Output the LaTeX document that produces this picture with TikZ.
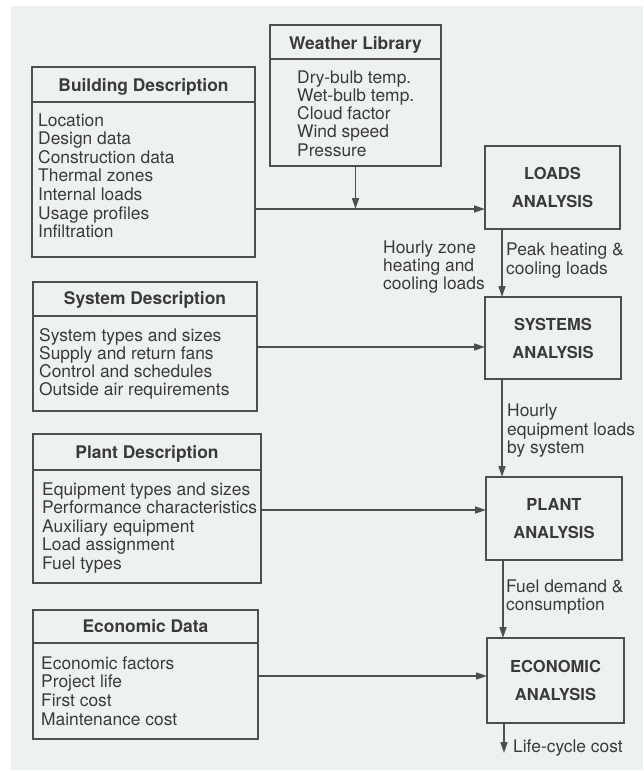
\documentclass[tikz,border=0pt]{standalone}
\usepackage{fontspec}
\setmainfont{TeX Gyre Heros}
\usetikzlibrary{arrows.meta}
\definecolor{paper}{RGB}{237,242,241}
\definecolor{ink}{RGB}{58,58,58}
\definecolor{rule}{RGB}{78,78,78}
\tikzset{
  box/.style={draw=rule, line width=1.8pt, inner sep=0pt, outer sep=0pt, anchor=north west},
  head/.style={font=\fontsize{17.4}{18.5}\selectfont\bfseries, text=ink, anchor=base, inner sep=0pt},
  item/.style={font=\fontsize{17.4}{18.5}\selectfont, text=ink, anchor=base west, inner sep=0pt},
  stage/.style={draw=rule, line width=1.8pt, inner sep=0pt, outer sep=0pt, align=center,
    text=ink, font=\fontsize{16.5}{28}\selectfont\bfseries},
  flow/.style={draw=rule, line width=1.6pt, -{Triangle[length=11pt,width=7pt]}},
  divider/.style={draw=rule, line width=1.6pt},
}
\begin{document}
\begin{tikzpicture}[x=1pt,y=-1pt]
  % page and paper tone
  \useasboundingbox (0,0) rectangle (643,771);
  \fill[white] (0,0) rectangle (643,771);
  \fill[paper] (11,6) rectangle (643,770);

  % ---------- input data boxes ----------
  % Weather library
  \node[box, minimum width=171pt, minimum height=141pt] (wx) at (270,25) {};
  \draw[divider] (wx.west |- 0,59) -- (wx.east |- 0,59);
  \node[head] (wxT) at (355.5,49) {Weather Library};
  \foreach \t [count=\i] in {Dry-bulb temp., Wet-bulb temp., Cloud factor, Wind speed, Pressure}
    \node[item] (wx\i) at (297,{83+18.25*(\i-1)}) {\t};

  % Building description
  \node[box, minimum width=223pt, minimum height=190pt] (bld) at (32,67) {};
  \draw[divider] (bld.west |- 0,102) -- (bld.east |- 0,102);
  \node[head] (bldT) at (143.5,91) {Building Description};
  \foreach \t [count=\i] in {Location, Design data, Construction data, Thermal zones,
                             Internal loads, Usage profiles, Infiltration}
    \node[item] (bld\i) at (38,{126+18.6*(\i-1)}) {\t};

  % System description
  \node[box, minimum width=224pt, minimum height=129pt] (sysd) at (33,282) {};
  \draw[divider] (sysd.west |- 0,316) -- (sysd.east |- 0,316);
  \node[head] (sysdT) at (145,304) {System Description};
  \foreach \t [count=\i] in {System types and sizes, Supply and return fans,
                             Control and schedules, Outside air requirements}
    \node[item] (sysd\i) at (39,{341+18.3*(\i-1)}) {\t};

  % Plant description
  \node[box, minimum width=228pt, minimum height=149pt] (pld) at (33,434) {};
  \draw[divider] (pld.west |- 0,470) -- (pld.east |- 0,470);
  \node[head] (pldT) at (147,458) {Plant Description};
  \foreach \t [count=\i] in {Equipment types and sizes, Performance characteristics,
                             Auxiliary equipment, Load assignment, Fuel types}
    \node[item] (pld\i) at (42,{495+18.5*(\i-1)}) {\t};

  % Economic data
  \node[box, minimum width=225pt, minimum height=129pt] (ecd) at (33,610) {};
  \draw[divider] (ecd.west |- 0,643) -- (ecd.east |- 0,643);
  \node[head] (ecdT) at (145.5,632) {Economic Data};
  \foreach \t [count=\i] in {Economic factors, Project life, First cost, Maintenance cost}
    \node[item] (ecd\i) at (41,{669+18.67*(\i-1)}) {\t};

  % ---------- analysis stages ----------
  \node[stage, minimum width=135pt, minimum height=83pt] (loads) at (552.5,187.5) {LOADS\\ANALYSIS};
  \node[stage, minimum width=136pt, minimum height=82pt] (systems) at (553,338) {SYSTEMS\\ANALYSIS};
  \node[stage, minimum width=136pt, minimum height=83pt] (plant) at (554,518.5) {PLANT\\ANALYSIS};
  \node[stage, minimum width=137pt, minimum height=85pt] (econ) at (555.5,680.5) {ECONOMIC\\ANALYSIS};

  % ---------- data flows into the stages ----------
  \coordinate (wj) at (355.5,209);
  \draw[flow] (wx.south) -- (wj);
  \draw[flow] (bld.east |- wj) -- (loads.west |- wj);
  \coordinate (sj) at (0,347);
  \draw[flow] (sysd.east |- sj) -- (systems.west |- sj);
  \coordinate (pj) at (0,510);
  \draw[flow] (pld.east |- pj) -- (plant.west |- pj);
  \coordinate (ej) at (0,676);
  \draw[flow] (ecd.east |- ej) -- (econ.west |- ej);

  % ---------- stage-to-stage flows ----------
  \coordinate (vx) at (502,0);
  \draw[flow] (loads.south -| vx) -- (systems.north -| vx);
  \draw[flow] (systems.south -| vx) -- (plant.north -| vx);
  \coordinate (vx2) at (503,0);
  \draw[flow] (plant.south -| vx2) -- (econ.north -| vx2);
  \coordinate (lc) at (504,753);
  \draw[flow] (econ.south -| lc) -- (lc);

  % ---------- flow labels ----------
  \node[item] (hz1) at (383,253) {Hourly zone};
  \node[item] (hz2) at (383,271) {heating and};
  \node[item] (hz3) at (383,289) {cooling loads};
  \node[item] (pk1) at (506,255) {Peak heating \&};
  \node[item] (pk2) at (506,274) {cooling loads};
  \node[item] (he1) at (507,416) {Hourly};
  \node[item] (he2) at (507,435) {equipment loads};
  \node[item] (he3) at (507,453) {by system};
  \node[item] (fd1) at (506,592) {Fuel demand \&};
  \node[item] (fd2) at (506,610) {consumption};
  \node[item] (lcc) at (513,752) {Life-cycle cost};
\end{tikzpicture}
\end{document}
